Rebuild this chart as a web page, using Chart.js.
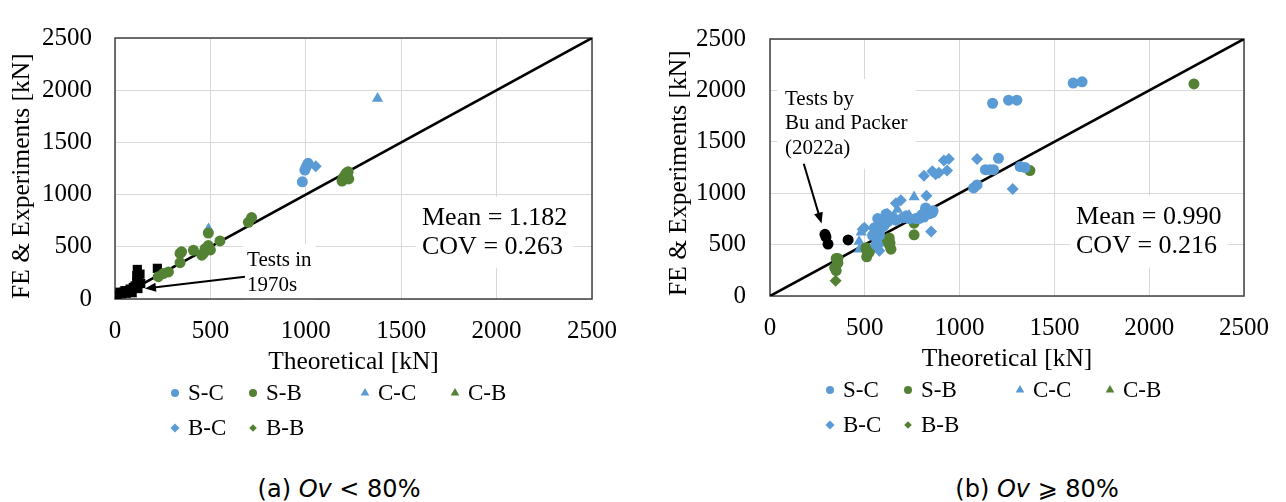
<!DOCTYPE html>
<html><head><meta charset="utf-8">
<script src="https://cdn.jsdelivr.net/npm/chart.js@4.4.0/dist/chart.umd.min.js"></script>
<style>
html,body{margin:0;padding:0;background:#fff;width:1286px;height:502px;overflow:hidden;position:relative}
#wa{position:absolute;left:0;top:0;width:640px;height:460px}
#wb{position:absolute;left:640px;top:0;width:646px;height:460px}
.cap{position:absolute;top:475px;font-family:"DejaVu Sans",sans-serif;font-size:24px;line-height:28px;color:#000;white-space:nowrap;transform:translateX(-50%)}
</style></head><body>
<div id="wa"><canvas id="ca"></canvas></div>
<div id="wb"><canvas id="cb"></canvas></div>
<div class="cap" style="left:339px">(a) <i>Ov</i> &lt; 80%</div>
<div class="cap" style="left:1037px">(b) <i>Ov</i> ⩾ 80%</div>
<script>
// ---------- data ----------
const seriesNames = ['S-C','S-B','C-C','C-B','B-C','B-B'];
const axisTicks = [0,500,1000,1500,2000,2500];
const refLine = [[0,0],[2500,2500]];

// (a) Ov < 80%
const a_SC = [[982,1122],[995,1235],[1003,1268],[1012,1300]];
const a_SB = [[227,214],[253,244],[280,259],[341,348],[341,437],[349,452],[411,467],[455,420],[463,437],[472,482],[489,512],[500,470],[489,631],[550,556],[699,735],[716,780],[1190,1130],[1195,1160],[1205,1185],[1212,1205],[1218,1170],[1222,1220],[1225,1150]];
const a_CC = [[1376,1920],[490,670]];
const a_CB = [];
const a_BC = [[1052,1271]];
const a_BB = [];
const a_tests1970s = [[10,40],[26,65],[35,50],[44,65],[52,80],[60,55],[79,95],[90,60],[96,110],[105,125],[114,164],[120,100],[122,193],[114,223],[131,238],[117,283],[135,148],[222,294]];

// (b) Ov >= 80%
const b_SC = [[1599,2071],[1646,2083],[1174,1875],[1258,1905],[1302,1905],[1205,1339],[1136,1229],[1160,1229],[1179,1229],[1319,1259],[1345,1250],[1074,1051],[1092,1080],[821,857],[856,812],[812,768],[786,753],[734,753],[664,738],[629,738],[594,679],[577,619],[541,589],[550,663],[568,753],[612,797],[821,842],[769,753],[646,768],[577,589],[559,500],[600,700],[620,720],[700,760],[720,780],[800,790],[840,800],[860,830],[580,650],[600,680]];
const b_SB = [[2236,2063],[1371,1220],[760,708],[760,595],[629,565],[629,500],[638,455],[633,515],[620,540],[507,470],[524,426],[510,381],[515,411],[507,455],[358,366],[349,366],[358,321],[341,277],[349,247]];
const b_CC = [[760,962],[672,842],[470,530],[481,619],[734,783],[472,455]];
const b_CB = [];
const b_BC = [[943,1333],[917,1318],[1092,1333],[812,1170],[856,1214],[891,1199],[934,1220],[874,1184],[1280,1042],[825,976],[850,628],[690,931],[664,902],[620,797],[498,663],[585,560],[577,500],[489,649],[577,440]];
const b_BB = [[346,149]];
const b_buPacker = [[290,600],[295,575],[306,505],[412,545]];

// ---------- styles ----------
const BLUE = '#5B9BD5', GREEN = '#548235', BLACK = '#000000';
const seriesStyle = {
  'S-C': {color: BLUE,  shape: 'circle',   r: 5.5, lr: 4},
  'S-B': {color: GREEN, shape: 'circle',   r: 5.5, lr: 4},
  'C-C': {color: BLUE,  shape: 'triangle', r: 6.5, lr: 5},
  'C-B': {color: GREEN, shape: 'triangle', r: 6.5, lr: 5},
  'B-C': {color: BLUE,  shape: 'rectRot',  r: 6,   lr: 4.5},
  'B-B': {color: GREEN, shape: 'rectRot',  r: 6,   lr: 3.8}
};
const SERIF = '"Liberation Serif", "Times New Roman", serif';
const pts = arr => arr.map(([x, y]) => ({x, y}));

function buildDatasets(seriesData, extra) {
  const ds = seriesNames.map((name, i) => {
    const s = seriesStyle[name];
    return {
      label: name, inLegend: true, data: pts(seriesData[i]),
      backgroundColor: s.color, borderColor: s.color, borderWidth: 0,
      pointStyle: s.shape, pointRadius: s.r, legendRadius: s.lr, showLine: false, order: 1
    };
  });
  ds.push(Object.assign({inLegend: false, borderWidth: 0, showLine: false, order: 1}, extra));
  ds.push({
    label: 'Line of equality', inLegend: false, type: 'line', data: pts(refLine),
    borderColor: BLACK, borderWidth: 2.6, pointRadius: 0, fill: false, order: 5
  });
  return ds;
}

// ---------- plugins ----------
function drawMark(ctx, style, r, x, y) {
  if (Chart.helpers && Chart.helpers.drawPoint) {
    Chart.helpers.drawPoint(ctx, {pointStyle: style, radius: r, rotation: 0, borderWidth: 0}, x, y);
  }
}
const notesPlugin = {
  id: 'notes',
  beforeDatasetsDraw(chart, args, opts) {
    const {ctx, chartArea: a} = chart;
    const xs = chart.scales.x, ys = chart.scales.y;
    ctx.save();
    (opts.texts || []).forEach(t => {
      ctx.font = t.font;
      const x = xs.getPixelForValue(t.x);
      const yp = t.y.map(v => ys.getPixelForValue(v));
      const w = Math.max(...t.lines.map(l => ctx.measureText(l).width));
      ctx.fillStyle = '#ffffff';
      ctx.fillRect(x - t.pad, yp[0] - t.lineH / 2 - t.pad, w + 2 * t.pad, yp[yp.length - 1] - yp[0] + t.lineH + 2 * t.pad);
    });
    ctx.strokeStyle = '#404040';
    ctx.lineWidth = 1.5;
    ctx.strokeRect(a.left, a.top, a.width, a.height);
    ctx.restore();
  },
  afterDatasetsDraw(chart, args, opts) {
    const {ctx} = chart;
    const xs = chart.scales.x, ys = chart.scales.y;
    ctx.save();
    ctx.fillStyle = '#000'; ctx.strokeStyle = '#000';
    ctx.textAlign = 'left'; ctx.textBaseline = 'middle';
    (opts.texts || []).forEach(t => {
      ctx.font = t.font;
      const x = xs.getPixelForValue(t.x);
      t.lines.forEach((l, i) => ctx.fillText(l, x, ys.getPixelForValue(t.y[i])));
    });
    (opts.arrows || []).forEach(ar => {
      const x1 = xs.getPixelForValue(ar.from[0]), y1 = ys.getPixelForValue(ar.from[1]);
      const x2 = xs.getPixelForValue(ar.to[0]), y2 = ys.getPixelForValue(ar.to[1]);
      const ang = Math.atan2(y2 - y1, x2 - x1), c = Math.cos(ang), s = Math.sin(ang);
      const hl = 11, hw = 4.5;
      ctx.lineWidth = 2;
      ctx.beginPath(); ctx.moveTo(x1, y1); ctx.lineTo(x2 - c * hl * 0.8, y2 - s * hl * 0.8); ctx.stroke();
      ctx.beginPath(); ctx.moveTo(x2, y2);
      ctx.lineTo(x2 - hl * c + hw * s, y2 - hl * s - hw * c);
      ctx.lineTo(x2 - hl * c - hw * s, y2 - hl * s + hw * c);
      ctx.closePath(); ctx.fill();
    });
    ctx.restore();
  },
  afterDraw(chart, args, opts) {
    const lg = opts.legend; if (!lg) return;
    const {ctx, chartArea: a} = chart;
    ctx.save();
    ctx.font = lg.font; ctx.textAlign = 'left'; ctx.textBaseline = 'middle';
    chart.data.datasets.filter(d => d.inLegend).forEach((d, i) => {
      const col = i < 4 ? i : i - 4, row = i < 4 ? 0 : 1;
      const x = a.left + lg.cols[col], y = a.bottom + lg.rows[row];
      ctx.fillStyle = d.backgroundColor;
      drawMark(ctx, d.pointStyle, d.legendRadius, x, y);
      ctx.fillStyle = '#000';
      ctx.fillText(d.label, x + lg.textGap, y + 1);
    });
    ctx.restore();
  }
};

function axisOpts(isY, titleText, yTitlePad, axisSize, tickPad) {
  return {
    type: 'linear', min: 0, max: 2500,
    afterBuildTicks: s => { s.ticks = axisTicks.map(v => ({value: v})); },
    afterFit: s => { if (isY) s.width = axisSize; else s.height = axisSize; },
    ticks: {font: {family: SERIF, size: 25}, color: '#000', padding: tickPad, maxRotation: 0, autoSkip: false, callback: v => String(v)},
    grid: {color: '#d9d9d9', lineWidth: 1, drawTicks: false},
    border: {display: false},
    title: {
      display: true, text: titleText, color: '#000', align: isY ? 'start' : 'center',
      font: {family: SERIF, size: 25.5}, padding: {top: isY ? yTitlePad : 0, bottom: 0}
    }
  };
}

function makeChart(id, datasets, geo, notes) {
  return new Chart(document.getElementById(id), {
    type: 'scatter',
    data: {datasets},
    options: {
      responsive: true, maintainAspectRatio: false, animation: false, events: [],
      layout: {padding: geo.padding},
      scales: {
        x: axisOpts(false, 'Theoretical [kN]', 0, geo.xAxisH, 17),
        y: axisOpts(true, 'FE & Experiments [kN]', geo.yTitlePad, geo.yAxisW, geo.yTickPad)
      },
      plugins: {legend: {display: false}, tooltip: {enabled: false}, notes}
    },
    plugins: [notesPlugin]
  });
}

const legendA = {font: '23px ' + SERIF, cols: [60, 138, 250, 340], rows: [94, 129], textGap: 13};

makeChart('ca',
  buildDatasets([a_SC, a_SB, a_CC, a_CB, a_BC, a_BB],
    {label: 'Tests in 1970s', data: pts(a_tests1970s), backgroundColor: BLACK, borderColor: BLACK, pointStyle: 'rect', pointRadius: 6.5}),
  {padding: {left: 0, top: 19, right: 48, bottom: 82}, xAxisH: 79, yAxisW: 115, yTitlePad: 7, yTickPad: 23},
  {
    texts: [
      {x: 1609, y: [777, 500], lines: ['Mean = 1.182', 'COV = 0.263'], font: '26px ' + SERIF, lineH: 30, pad: 6},
      {x: 692, y: [366, 125], lines: ['Tests in', '1970s'], font: '21px ' + SERIF, lineH: 25, pad: 4}
    ],
    arrows: [{from: [681, 214], to: [157, 101]}],
    legend: legendA
  });

makeChart('cb',
  buildDatasets([b_SC, b_SB, b_CC, b_CB, b_BC, b_BB],
    {label: 'Tests by Bu and Packer (2022a)', data: pts(b_buPacker), backgroundColor: BLACK, borderColor: BLACK, pointStyle: 'circle', pointRadius: 5.5}),
  {padding: {left: 0, top: 16, right: 40, bottom: 85}, xAxisH: 79, yAxisW: 130, yTitlePad: 24, yTickPad: 24},
  {
    texts: [
      {x: 1614, y: [768, 482], lines: ['Mean = 0.990', 'COV = 0.216'], font: '26px ' + SERIF, lineH: 30, pad: 6},
      {x: 79, y: [1911, 1679, 1438], lines: ['Tests by', 'Bu and Packer', '(2022a)'], font: '21px ' + SERIF, lineH: 25, pad: 8}
    ],
    arrows: [{from: [178, 1286], to: [272, 705]}],
    legend: legendA
  });
</script>
</body></html>
